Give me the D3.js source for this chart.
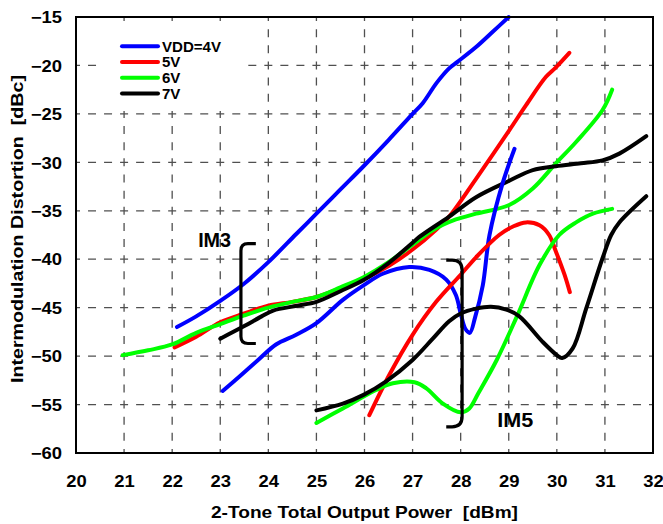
<!DOCTYPE html>
<html><head><meta charset="utf-8">
<script src="https://cdn.jsdelivr.net/npm/d3@7"></script>
<style>body{margin:0;background:#fff}svg{display:block}</style>
</head><body>
<svg id="c" width="663" height="524"></svg>
<script>
const xTicks = [20,21,22,23,24,25,26,27,28,29,30,31,32];
const yTicks = [-15,-20,-25,-30,-35,-40,-45,-50,-55,-60];
const seriesNames = ["VDD=4V","5V","6V","7V"];
const seriesColors = ["#0000ff","#ff0000","#00ff00","#000000"];

// IM3 curves [Pout dBm, dBc]
const im3_4V = [[22.1,-47.0],[22.5,-45.9],[23.0,-44.3],[23.5,-42.5],[24.0,-40.3],[24.58,-37.4],[25.0,-35.3],[25.5,-32.8],[26.0,-30.3],[26.5,-27.7],[27.0,-25.0],[27.21,-23.9],[27.5,-21.8],[27.76,-20.3],[27.94,-19.6],[28.32,-18.1],[28.65,-16.6],[29.0,-15.0]];
const im3_5V = [[22.05,-49.1],[22.5,-48.0],[23.0,-46.5],[23.5,-45.6],[24.0,-44.8],[24.5,-44.4],[25.0,-43.9],[25.5,-43.0],[26.0,-42.0],[26.5,-40.7],[27.0,-39.0],[27.5,-36.9],[27.76,-35.6],[28.32,-31.7],[29.01,-26.7],[29.36,-24.1],[29.77,-21.2],[29.98,-20.2],[30.26,-18.7]];
const im3_6V = [[20.97,-49.9],[21.5,-49.4],[22.0,-48.8],[22.5,-47.6],[23.0,-46.7],[23.5,-45.8],[24.0,-45.0],[24.5,-44.4],[25.0,-43.9],[25.5,-42.9],[26.0,-41.8],[26.5,-40.3],[27.0,-38.5],[27.42,-37.0],[27.9,-35.9],[28.32,-35.3],[29.01,-34.4],[29.5,-32.7],[29.98,-30.1],[30.4,-27.9],[30.95,-24.6],[31.15,-22.5]];
const im3_7V = [[23.0,-48.2],[23.5,-46.9],[23.86,-45.9],[24.1,-45.3],[24.6,-44.8],[25.0,-44.4],[25.5,-43.3],[26.0,-42.1],[26.5,-40.4],[27.0,-38.3],[27.14,-37.7],[27.76,-35.6],[28.32,-33.6],[29.01,-31.9],[29.5,-30.8],[29.98,-30.4],[30.5,-30.1],[30.95,-29.8],[31.3,-29.1],[31.86,-27.3]];

// IM5 curves
const im5_4V = [[23.05,-53.6],[23.4,-52.1],[23.81,-50.3],[24.16,-48.8],[24.58,-47.8],[25.0,-46.6],[25.55,-44.2],[25.98,-42.7],[26.38,-41.5],[26.93,-40.8],[27.35,-41.1],[27.7,-42.1],[27.9,-43.7],[28.0,-45.6],[28.1,-47.2],[28.19,-47.6],[28.3,-46.0],[28.46,-42.7],[28.6,-37.5],[28.87,-32.2],[29.12,-28.6]];
const im5_5V = [[26.1,-56.1],[26.52,-51.9],[27.0,-47.8],[27.49,-44.4],[28.0,-41.6],[28.32,-39.8],[28.8,-37.5],[29.1,-36.6],[29.36,-36.2],[29.64,-36.5],[29.84,-37.5],[29.98,-39.2],[30.16,-41.6],[30.27,-43.4]];
const im5_6V = [[25.0,-56.9],[25.55,-55.4],[26.24,-53.5],[26.59,-52.8],[27.04,-52.7],[27.28,-53.3],[27.63,-54.9],[28.0,-55.8],[28.18,-55.4],[28.37,-53.8],[28.75,-50.4],[29.17,-45.9],[29.64,-40.6],[30.05,-37.5],[30.4,-36.2],[30.75,-35.3],[31.15,-34.8]];
const im5_7V = [[25.0,-55.6],[25.55,-54.9],[25.98,-54.0],[26.45,-52.6],[27.0,-50.4],[27.42,-48.2],[27.76,-46.4],[28.0,-45.6],[28.32,-45.1],[28.63,-44.9],[28.95,-45.2],[29.22,-45.9],[29.7,-48.5],[30.0,-49.9],[30.11,-50.2],[30.33,-49.2],[30.61,-45.1],[30.95,-39.9],[31.13,-37.5],[31.3,-36.2],[31.86,-33.5]];

const im3Series = [im3_4V, im3_5V, im3_6V, im3_7V];
const im5Series = [im5_4V, im5_5V, im5_6V, im5_7V];

const FONT = "Arial, 'Liberation Sans', sans-serif";
const svg = d3.select("#c");
const x = d3.scaleLinear().domain([20,32]).range([76,653]);
const y = d3.scaleLinear().domain([-60,-15]).range([453,17]);

function stretch(sel, f) {
  sel.each(function(){
    const w = this.getComputedTextLength();
    d3.select(this).attr("textLength", w*f).attr("lengthAdjust","spacingAndGlyphs");
  });
}

// gridlines
const px = (x(21)-x(20))/3, py = (y(-20)-y(-15))/3;
svg.append("g").selectAll("line").data(yTicks.slice(1,-1)).join("line")
  .attr("x1", x(20)).attr("x2", x(32)).attr("y1", d=>y(d)).attr("y2", d=>y(d))
  .attr("stroke","#505050").attr("stroke-width",1.3)
  .attr("stroke-dasharray", `8,${px-8}`).attr("stroke-dashoffset",4);
svg.append("g").selectAll("line").data(xTicks.slice(1,-1)).join("line")
  .attr("x1", d=>x(d)).attr("x2", d=>x(d)).attr("y1", y(-15)).attr("y2", y(-60))
  .attr("stroke","#505050").attr("stroke-width",1.3)
  .attr("stroke-dasharray", `8,${py-8}`).attr("stroke-dashoffset",4);

// legend background
svg.append("rect").attr("x",98).attr("y",27).attr("width",150).attr("height",84).attr("fill","#fff");

// curves
const line = d3.line().x(d=>x(d[0])).y(d=>y(d[1])).curve(d3.curveCatmullRom.alpha(0.5));
const allSeries = im3Series.map((s,i)=>({s,i})).concat(im5Series.map((s,i)=>({s,i})));
svg.append("g").selectAll("path").data(allSeries).join("path")
  .attr("d", d=>line(d.s)).attr("fill","none")
  .attr("stroke", d=>seriesColors[d.i]).attr("stroke-width",4)
  .attr("stroke-linecap","round").attr("stroke-linejoin","round");

// frame
svg.append("rect").attr("x",x(20)).attr("y",y(-15)).attr("width",x(32)-x(20)).attr("height",y(-60)-y(-15))
  .attr("fill","none").attr("stroke","#000").attr("stroke-width",2);

// axes
const gx = svg.append("g").attr("transform",`translate(0,${y(-60)})`)
  .call(d3.axisBottom(x).tickValues(xTicks).tickSize(0).tickFormat(d3.format("d")));
gx.select(".domain").remove();
gx.selectAll("text").attr("y",34).attr("dy",null)
  .style("font-family",FONT).style("font-size","16px").style("font-weight","bold").attr("fill","#000");
stretch(gx.selectAll("text"),1.15);

const gy = svg.append("g").attr("transform",`translate(${x(20)},0)`)
  .call(d3.axisLeft(y).tickValues(yTicks).tickSize(0).tickFormat(d3.format("d")));
gy.select(".domain").remove();
gy.selectAll("text").attr("x",-14).attr("dy","0.36em")
  .style("font-family",FONT).style("font-size","16px").style("font-weight","bold").attr("fill","#000");
stretch(gy.selectAll("text"),1.15);

// titles
const xt = svg.append("text").attr("x",364.5).attr("y",518).attr("text-anchor","middle")
  .style("font-family",FONT).style("font-size","17px").style("font-weight","bold")
  .attr("xml:space","preserve").text("2-Tone Total Output Power  [dBm]");
xt.attr("textLength",307).attr("lengthAdjust","spacingAndGlyphs");
const yt = svg.append("text").attr("transform","translate(23,229) rotate(-90)").attr("text-anchor","middle")
  .style("font-family",FONT).style("font-size","17px").style("font-weight","bold")
  .attr("xml:space","preserve").text("Intermodulation Distortion  [dBc]");
yt.attr("textLength",308).attr("lengthAdjust","spacingAndGlyphs");

// brackets
function bracketPath(xv, xe, yt0, yb0, r) {
  const s = Math.sign(xe-xv);
  return `M${xe},${yt0} L${xv+s*r},${yt0} Q${xv},${yt0} ${xv},${yt0+r} L${xv},${yb0-r} Q${xv},${yb0} ${xv+s*r},${yb0} L${xe},${yb0}`;
}
svg.append("path").attr("d", bracketPath(x(23.43), x(23.74), y(-38.4), y(-48.7), 7))
  .attr("fill","none").attr("stroke","#000").attr("stroke-width",3.2);
svg.append("path").attr("d", bracketPath(x(28.03), x(27.7), y(-40.1), y(-57.3), 10))
  .attr("fill","none").attr("stroke","#000").attr("stroke-width",3.2);

svg.append("text").attr("x",x(22.54)).attr("y",y(-38.7))
  .style("font-family",FONT).style("font-size","21px").style("font-weight","bold").text("IM3")
  .attr("textLength",33).attr("lengthAdjust","spacingAndGlyphs");
svg.append("text").attr("x",x(28.76)).attr("y",y(-57.3))
  .style("font-family",FONT).style("font-size","20px").style("font-weight","bold").text("IM5")
  .attr("textLength",36).attr("lengthAdjust","spacingAndGlyphs");

// legend
const lg = svg.append("g");
seriesNames.forEach((n,i)=>{
  const ly = 46.3 + 15.7*i;
  lg.append("line").attr("x1",122).attr("x2",158).attr("y1",ly).attr("y2",ly)
    .attr("stroke",seriesColors[i]).attr("stroke-width",4).attr("stroke-linecap","round");
  const t = lg.append("text").attr("x",162).attr("y",ly+5.4)
    .style("font-family",FONT).style("font-size","14px").style("font-weight","bold").text(n);
  stretch(t,1.075);
});
</script>
</body></html>
